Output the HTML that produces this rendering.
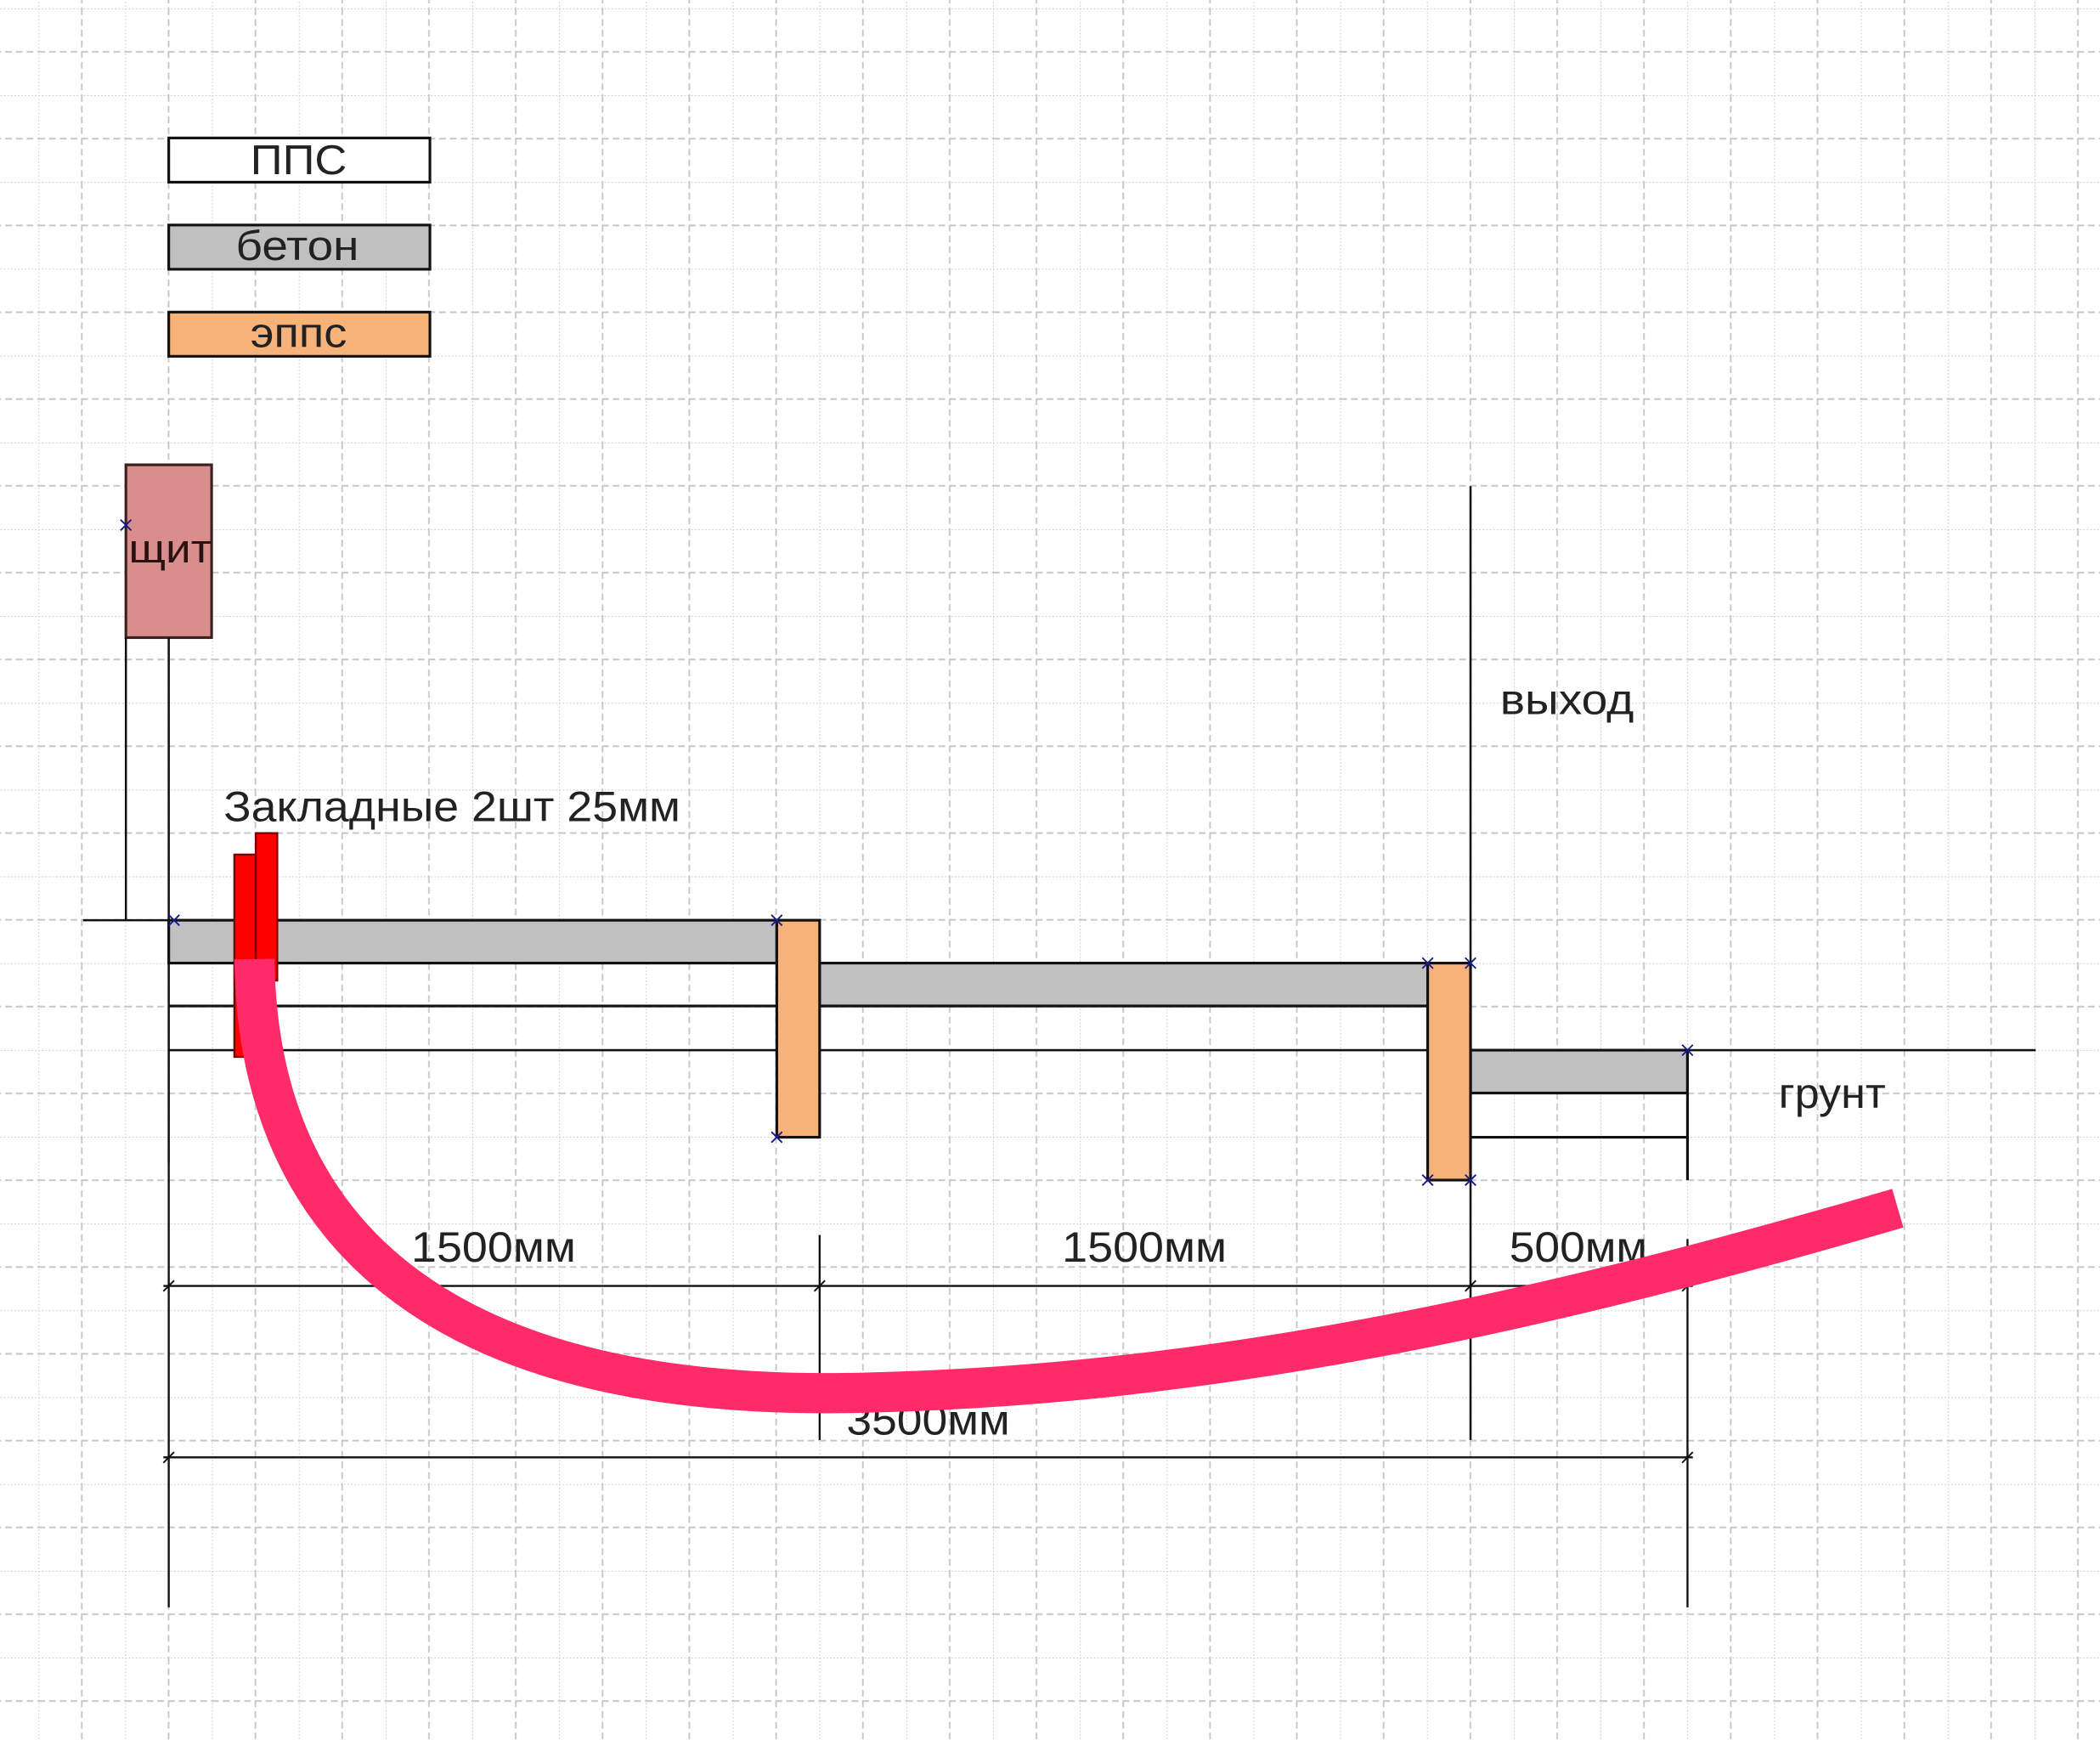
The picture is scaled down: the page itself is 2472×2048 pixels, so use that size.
<!DOCTYPE html>
<html><head><meta charset="utf-8"><style>
html,body{margin:0;padding:0;background:#fff;width:2472px;height:2048px;overflow:hidden}
svg{display:block}
text{font-family:"Liberation Sans",sans-serif}
</style></head><body>
<svg width="2472" height="2048" viewBox="0 0 1568 1299" preserveAspectRatio="none" xmlns="http://www.w3.org/2000/svg">
<defs>
<pattern id="g" x="28.7" y="6.3" width="64.8" height="64.8" patternUnits="userSpaceOnUse">
 <line x1="0" y1="0" x2="0" y2="64.8" stroke="#c6c6c6" stroke-width="1.1" stroke-dasharray="1.2,1.4"/>
 <line x1="0" y1="0" x2="64.8" y2="0" stroke="#c6c6c6" stroke-width="1.1" stroke-dasharray="1.2,1.4"/>
 <line x1="32.4" y1="0" x2="32.4" y2="64.8" stroke="#c6c6c6" stroke-width="1.2" stroke-dasharray="5,3"/>
 <line x1="0" y1="32.4" x2="64.8" y2="32.4" stroke="#c6c6c6" stroke-width="1.2" stroke-dasharray="5,3"/>
</pattern>
</defs>
<rect width="1568" height="1299" fill="#fff"/>
<rect width="1568" height="1299" fill="url(#g)"/>

<!-- legend -->
<g stroke="#111" stroke-width="2">
<rect x="126" y="103" width="195" height="33" fill="#fff"/>
<rect x="126" y="168" width="195" height="33" fill="#c0c0c0"/>
<rect x="126" y="233" width="195" height="33" fill="#f7b27a"/>
</g>
<g font-size="31" fill="#222" lengthAdjust="spacingAndGlyphs">
<text x="187" y="130" textLength="72" lengthAdjust="spacingAndGlyphs">ППС</text>
<text x="176" y="194" textLength="92" lengthAdjust="spacingAndGlyphs">бетон</text>
<text x="187" y="259" textLength="72" lengthAdjust="spacingAndGlyphs">эппс</text>
</g>

<!-- щит -->
<rect x="94" y="347" width="64" height="129" fill="#d98e8c" stroke="#3a2020" stroke-width="2"/>
<text x="96" y="420" font-size="30" textLength="62" lengthAdjust="spacingAndGlyphs" fill="#2a1212">щит</text>

<g stroke="#111" stroke-width="1.6" fill="none">
<line x1="94" y1="476" x2="94" y2="687"/>
<line x1="126" y1="476" x2="126" y2="868"/>
<line x1="62" y1="687" x2="126" y2="687"/>
<line x1="1098" y1="363" x2="1098" y2="1075"/>
<line x1="126" y1="784" x2="1520" y2="784"/>
</g>

<rect x="126" y="687" width="454" height="32" fill="#c0c0c0" stroke="#111" stroke-width="2"/>
<g stroke="#111" stroke-width="2">
<line x1="126" y1="751" x2="580" y2="751"/>
<line x1="612" y1="751" x2="1066" y2="751"/>
</g>
<rect x="612" y="719" width="454" height="32" fill="#c0c0c0" stroke="#111" stroke-width="2"/>
<rect x="1098" y="784" width="162" height="32" fill="#c0c0c0" stroke="#111" stroke-width="2"/>
<g stroke="#111" stroke-width="2">
<line x1="1098" y1="849" x2="1260" y2="849"/>
<line x1="1260" y1="784" x2="1260" y2="881"/>
</g>
<rect x="580" y="687" width="32" height="162" fill="#f7b27a" stroke="#111" stroke-width="2"/>
<rect x="1066" y="719" width="32" height="162" fill="#f7b27a" stroke="#111" stroke-width="2"/>

<rect x="175" y="638" width="16" height="151" fill="#ff0000" stroke="#7a0000" stroke-width="1.5"/>
<rect x="191" y="622" width="16" height="110" fill="#ff0000" stroke="#7a0000" stroke-width="1.5"/>

<g font-size="32" fill="#222">
<text x="167" y="613" textLength="341" lengthAdjust="spacingAndGlyphs">Закладные 2шт 25мм</text>
<text x="1120" y="533" textLength="100" lengthAdjust="spacingAndGlyphs">выход</text>
<text x="1328" y="827" textLength="80" lengthAdjust="spacingAndGlyphs">грунт</text>
<text x="307" y="942" textLength="123" lengthAdjust="spacingAndGlyphs">1500мм</text>
<text x="793" y="942" textLength="123" lengthAdjust="spacingAndGlyphs">1500мм</text>
<text x="1127" y="942" textLength="103" lengthAdjust="spacingAndGlyphs">500мм</text>
<text x="632" y="1071" textLength="122" lengthAdjust="spacingAndGlyphs">3500мм</text>
</g>

<g stroke="#111" stroke-width="1.5">
<line x1="126" y1="868" x2="126" y2="1200"/>
<line x1="612" y1="922" x2="612" y2="1075"/>
<line x1="1260" y1="925" x2="1260" y2="1200"/>
<line x1="122" y1="960" x2="1264" y2="960"/>
<line x1="122" y1="1088" x2="1264" y2="1088"/>
<g stroke-width="1.2">
<line x1="122" y1="964" x2="130" y2="956"/><line x1="608" y1="964" x2="616" y2="956"/>
<line x1="1094" y1="964" x2="1102" y2="956"/><line x1="1256" y1="964" x2="1264" y2="956"/>
<line x1="122" y1="1092" x2="130" y2="1084"/><line x1="1256" y1="1092" x2="1264" y2="1084"/>
</g>
</g>

<g stroke="#1a1a8a" stroke-width="1.2">
<path d="M90,388l8,8M98,388l-8,8"/>
<path d="M126,683l8,8M134,683l-8,8"/>
<path d="M576,683l8,8M584,683l-8,8"/>
<path d="M576,845l8,8M584,845l-8,8"/>
<path d="M1062,715l8,8M1070,715l-8,8"/>
<path d="M1094,715l8,8M1102,715l-8,8"/>
<path d="M1062,877l8,8M1070,877l-8,8"/>
<path d="M1094,877l8,8M1102,877l-8,8"/>
<path d="M1256,780l8,8M1264,780l-8,8"/>
</g>

<path d="M190,716 C192,905 310,1044 630,1040 C900,1036 1150,980 1417,902" fill="none" stroke="#ff2a68" stroke-width="30"/>
</svg>
</body></html>
